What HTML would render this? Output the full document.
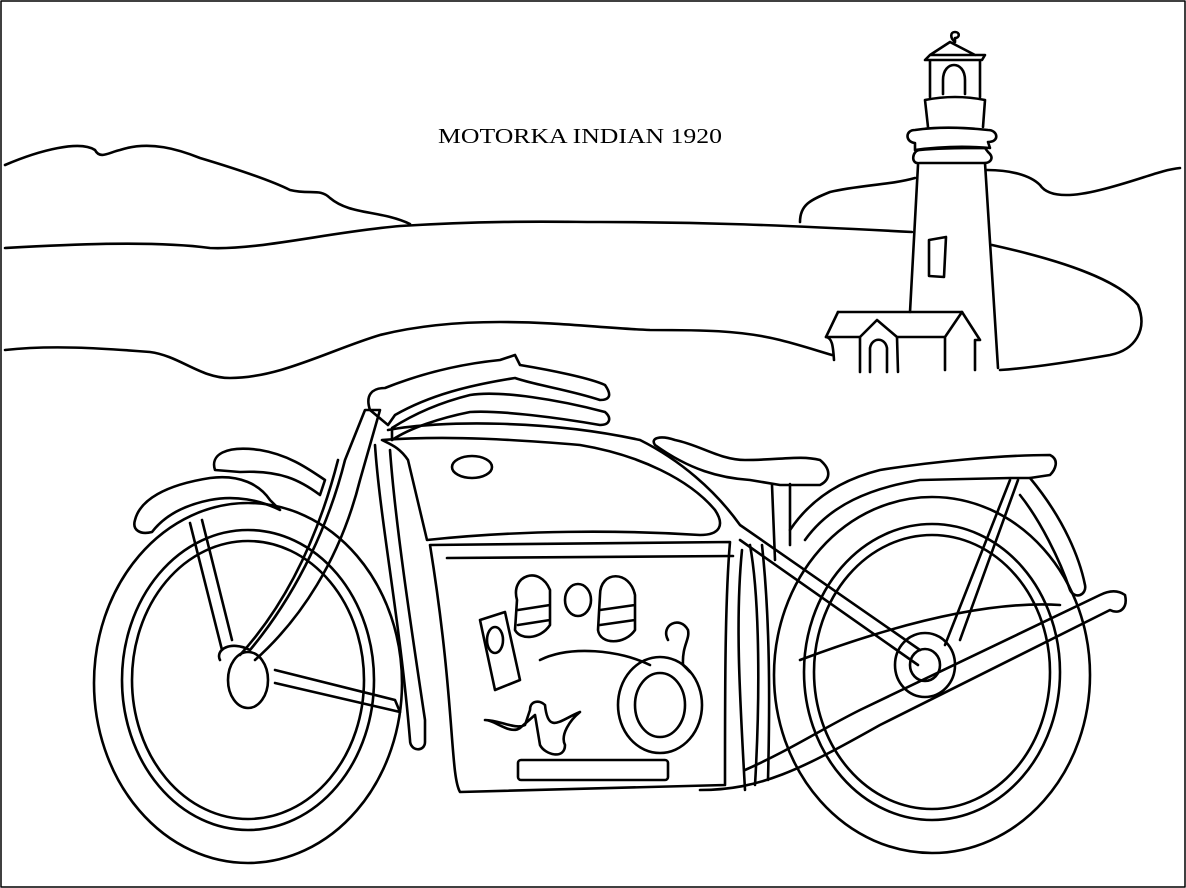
<!DOCTYPE html>
<html><head><meta charset="utf-8"><style>html,body{margin:0;padding:0;background:#fff}svg{display:block}</style></head>
<body>
<svg width="1186" height="888" viewBox="0 0 1186 888" xmlns="http://www.w3.org/2000/svg" fill="none" stroke="#000" stroke-width="2.6" stroke-linejoin="round" stroke-linecap="round">
<rect x="1" y="1" width="1184" height="886" stroke-width="1.5"/>
<text x="438" y="143" textLength="284" lengthAdjust="spacingAndGlyphs" font-family="Liberation Serif, serif" font-size="21" fill="#000" stroke="none">MOTORKA INDIAN 1920</text>
<path d="M5,165 C40,150 80,140 95,150 C100,160 110,152 120,150 C150,140 180,150 200,158 C240,170 270,180 290,190 C310,195 320,188 330,198 C350,215 380,210 410,224"/>
<path d="M800,222 C800,205 810,200 830,192 C860,185 890,185 915,178"/>
<path d="M987,170 C1010,170 1030,175 1040,185 C1050,200 1080,195 1100,190 C1140,180 1160,170 1180,168"/>
<path d="M5,248 C60,245 150,240 210,248 C260,250 330,232 400,226 C500,220 560,222 600,222 C700,222 780,225 912,232"/>
<path d="M992,245 C1060,260 1120,280 1138,305 C1148,330 1135,350 1110,355 C1070,362 1030,368 1000,370"/>
<path d="M5,350 C50,345 100,348 150,352 C180,356 200,378 230,378 C280,378 330,350 380,335 C420,325 460,322 500,322 C560,322 600,328 650,330 C700,330 740,330 780,340 C800,345 815,350 832,355"/>
<path d="M918,165 L910,312"/><path d="M985,163 L998,368"/>
<path d="M920,150 C912,150 910,165 920,163 L985,163 C990,163 995,158 988,152 L985,148 C975,148 940,148 920,150 Z"/>
<path d="M915,130 C905,130 905,142 915,143 L915,150 C950,145 980,147 990,148 L988,142 C1000,142 998,130 988,130 C960,127 935,127 915,130 Z"/>
<path d="M925,100 L928,127 M985,100 L983,127 M925,100 C945,96 965,96 985,100"/>
<path d="M930,60 L930,97 M980,60 L980,97 M925,60 L930,55 L985,55 L982,60 Z M930,55 L950,42 L975,55 M955,38 L955,42 C950,38 950,32 955,32 C960,32 960,38 955,38"/>
<path d="M943,94 L943,80 C943,60 965,60 965,80 L965,94"/>
<path d="M929,240 L946,237 L944,277 L929,276 Z"/>
<path d="M838,312 L962,312 L980,340 L975,340 L975,370"/>
<path d="M838,312 L826,337 C832,338 833,345 834,360"/>
<path d="M826,337 L860,337 L877,320 L897,337 L945,337 L962,312 M945,337 L945,370"/>
<path d="M860,337 L860,372 M897,337 L898,372 M870,372 L870,348 C872,337 885,337 887,348 L887,372"/>
<ellipse cx="248" cy="683" rx="154" ry="180"/>
<ellipse cx="248" cy="680" rx="126" ry="150"/>
<ellipse cx="248" cy="680" rx="116" ry="139"/>
<ellipse cx="932" cy="675" rx="158" ry="178"/>
<ellipse cx="932" cy="672" rx="128" ry="148"/>
<ellipse cx="932" cy="672" rx="118" ry="137"/>
<path d="M135,520 C140,500 165,485 210,478 C240,474 260,485 270,500 L280,510 C260,500 235,495 210,500 C185,505 165,515 152,532 C140,535 132,530 135,520 Z"/>
<path d="M215,470 C210,455 225,445 260,450 C290,455 310,470 325,480 L320,495 C300,480 280,470 240,472 L215,470 Z"/>
<path d="M190,523 L222,650 M202,520 L232,640"/>
<path d="M220,660 C215,650 230,640 250,650 C300,590 330,520 345,460 L365,410 L380,410 L360,480 C340,560 300,620 255,660"/>
<path d="M240,655 C290,600 320,530 338,460"/>
<ellipse cx="248" cy="680" rx="20" ry="28"/>
<path d="M275,670 L395,700 L400,712 L275,683"/>
<path d="M370,410 C365,395 372,388 385,388 C410,378 450,365 500,360 L515,355 L520,365 C550,370 590,378 605,385 C612,395 610,400 600,400 C570,390 535,385 515,378 C470,385 430,395 395,415 L388,425 Z"/>
<path d="M392,428 C420,410 450,400 470,395 C500,390 560,400 605,412 C612,418 610,425 600,425 C560,418 500,410 470,412 C440,418 410,428 392,440 Z"/>
<path d="M382,440 C450,435 520,440 580,445 C640,455 690,480 715,510 C725,525 720,535 700,535 C620,530 520,530 427,540 L408,460 C400,448 392,445 382,440 Z"/>
<ellipse cx="472" cy="467" rx="20" ry="11"/>
<path d="M375,445 C380,520 400,620 410,740 C410,752 425,752 425,742 L425,720 C410,620 395,520 390,450"/>
<path d="M388,430 C440,420 550,420 640,440 C680,460 715,490 740,525 L920,650"/>
<path d="M740,540 L918,665"/>
<path d="M430,545 L730,542 C725,600 725,690 725,780 L725,785 L460,792 C450,775 455,700 430,545 Z"/>
<path d="M447,558 L733,556"/>
<path d="M517,600 C510,575 540,565 550,590 L550,625 C540,640 520,640 515,630 Z M518,610 L550,605 M518,625 L550,620"/>
<ellipse cx="578" cy="600" rx="13" ry="16"/>
<path d="M600,595 C600,570 630,570 635,595 L635,630 C625,645 600,645 598,630 Z M600,610 L635,605 M600,625 L635,620"/>
<path d="M480,620 L505,612 L520,680 L495,690 Z"/>
<ellipse cx="495" cy="640" rx="8" ry="13"/>
<path d="M668,640 C660,625 680,615 688,630 C690,640 682,645 683,665 L690,672"/>
<ellipse cx="660" cy="705" rx="42" ry="48"/>
<ellipse cx="660" cy="705" rx="25" ry="32"/>
<path d="M485,720 C495,720 510,735 520,728 L535,715 L540,745 C545,755 565,760 565,745 C560,735 570,720 580,712 C560,720 548,735 545,705 C540,700 530,700 530,710 L525,725 C515,730 500,720 485,720 Z"/>
<path d="M540,660 C570,645 620,650 650,665"/>
<rect x="518" y="760" width="150" height="20" rx="3"/>
<path d="M750,545 C760,600 760,700 755,785 M762,545 C770,620 770,700 768,780 M742,550 C735,620 740,700 745,790"/>
<path d="M700,790 C760,790 800,770 880,725 L1110,610 C1120,615 1128,608 1125,595 C1118,590 1110,590 1100,595 L860,710 C820,730 790,750 745,770"/>
<path d="M800,660 C880,630 980,600 1060,605"/>
<ellipse cx="925" cy="665" rx="30" ry="32"/>
<ellipse cx="925" cy="665" rx="15" ry="16"/>
<path d="M655,445 C650,438 660,435 675,440 C700,445 720,460 745,460 C780,460 800,455 820,460 C832,470 830,480 820,485 L780,485 L750,480 C720,478 690,470 655,445 Z"/>
<path d="M772,485 L775,560 M790,484 L790,545"/>
<path d="M790,530 C810,500 840,480 880,470 C930,462 1000,455 1050,455 C1060,460 1055,470 1050,475 L1030,478 C1065,520 1080,560 1085,585 C1087,595 1075,600 1070,590 C1060,560 1040,520 1020,495"/>
<path d="M805,540 C830,505 870,488 920,480 L1010,478 L1030,478"/>
<path d="M1018,480 L960,640 M1010,480 L945,645"/>
</svg>
</body></html>
